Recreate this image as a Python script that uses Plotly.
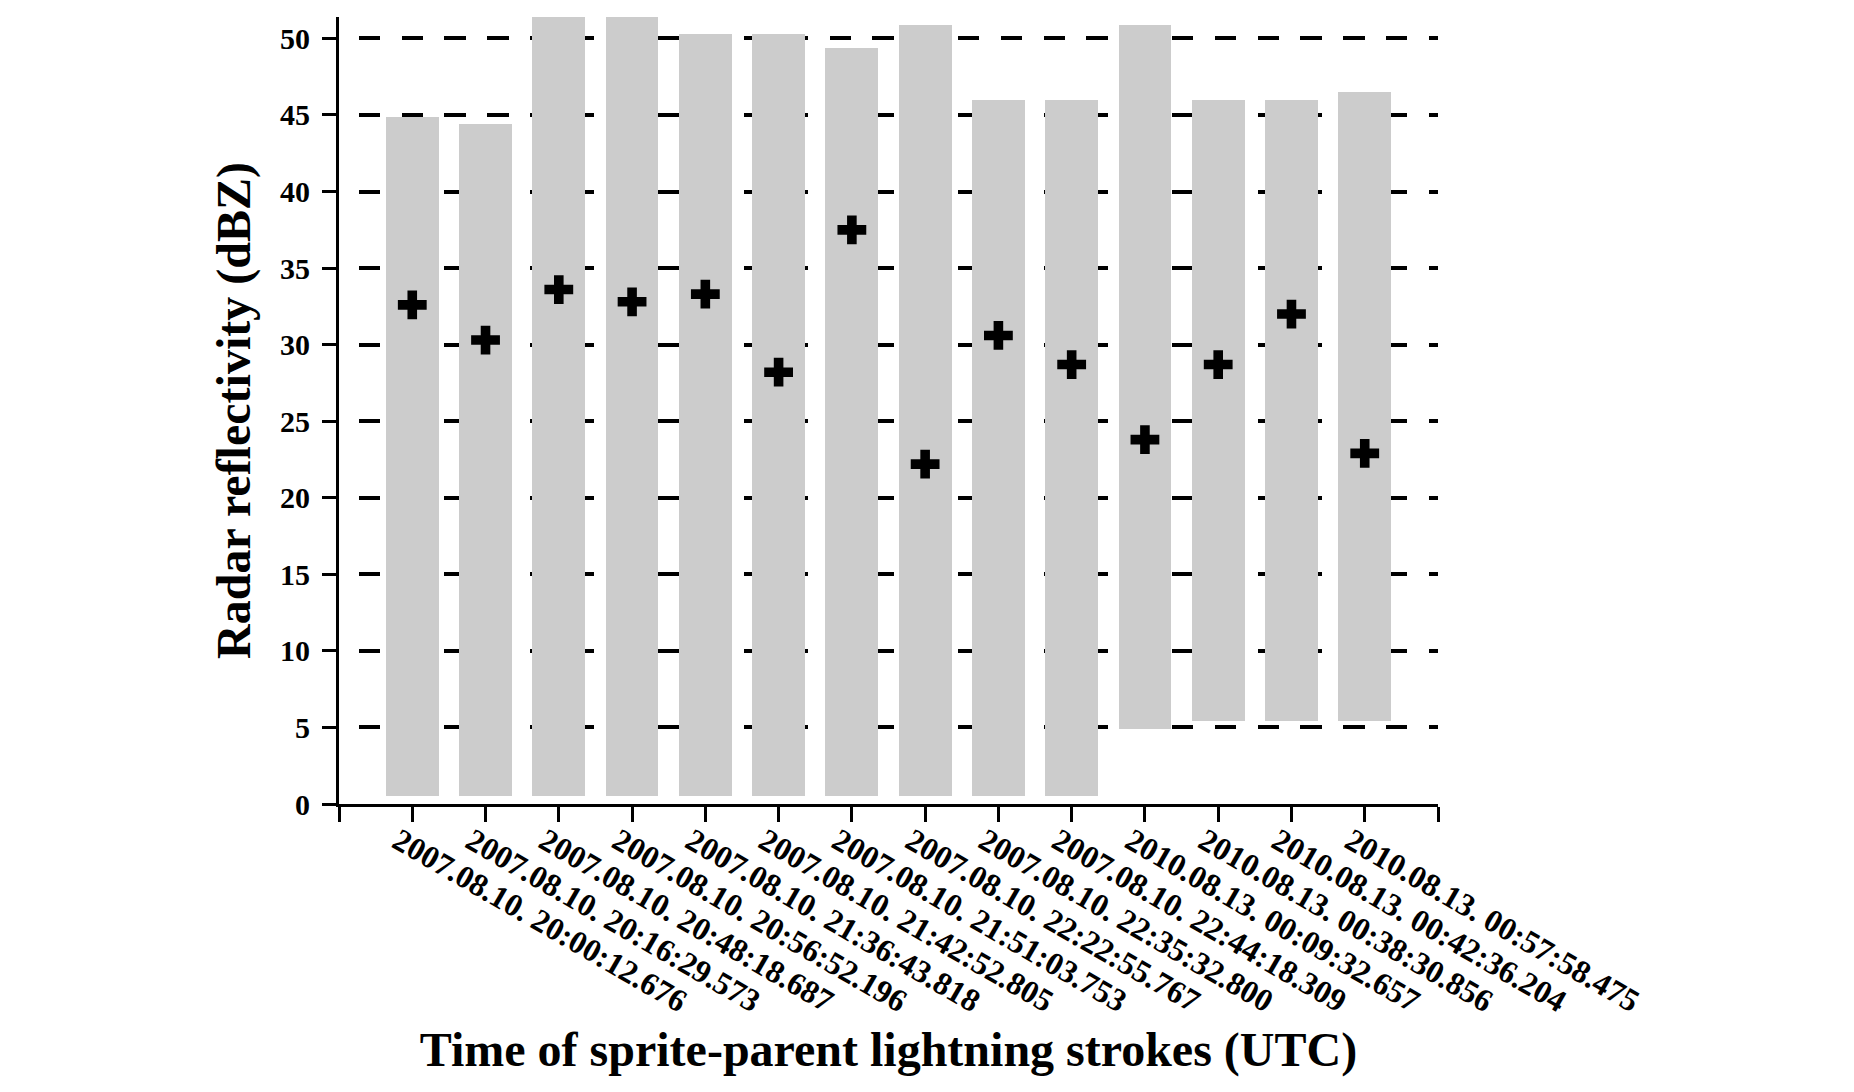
import plotly.graph_objects as go

# ---- data ----
times = [
    "2007.08.10. 20:00:12.676", "2007.08.10. 20:16:29.573", "2007.08.10. 20:48:18.687",
    "2007.08.10. 20:56:52.196", "2007.08.10. 21:36:43.818", "2007.08.10. 21:42:52.805",
    "2007.08.10. 21:51:03.753", "2007.08.10. 22:22:55.767", "2007.08.10. 22:35:32.800",
    "2007.08.10. 22:44:18.309", "2010.08.13. 00:09:32.657", "2010.08.13. 00:38:30.856",
    "2010.08.13. 00:42:36.204", "2010.08.13. 00:57:58.475",
]
refl_max = [44.9, 44.4, 52.0, 52.0, 50.3, 50.3, 49.4, 50.9, 46.0, 46.0, 50.9, 46.0, 46.0, 46.5]
refl_min = [0.5, 0.5, 0.5, 0.5, 0.5, 0.5, 0.5, 0.5, 0.5, 0.5, 4.9, 5.4, 5.4, 5.4]
refl_mean = [32.6, 30.3, 33.6, 32.8, 33.3, 28.2, 37.5, 22.2, 30.6, 28.7, 23.8, 28.7, 32.0, 22.9]
y_ticks = [0, 5, 10, 15, 20, 25, 30, 35, 40, 45, 50]

x_pos = list(range(len(times)))
heights = [hi - lo for hi, lo in zip(refl_max, refl_min)]

FONT = "Liberation Serif"

fig = go.Figure()
fig.add_trace(go.Bar(
    x=x_pos, y=heights, base=refl_min, width=0.72,
    marker=dict(color="#cccccc", line=dict(width=0)),
    showlegend=False,
))
fig.add_trace(go.Scatter(
    x=x_pos, y=refl_mean, mode="markers",
    marker=dict(symbol="cross", size=24, color="black", line=dict(width=0)),
    showlegend=False,
))

fig.update_layout(
    width=1854, height=1092,
    margin=dict(l=331, r=424, t=9, b=296),
    paper_bgcolor="white", plot_bgcolor="white",
    font=dict(family=FONT, color="black"),
    bargap=0,
)
fig.update_xaxes(
    range=[-1, 14],
    tickmode="array",
    tickvals=[-1] + x_pos + [len(times)],
    ticktext=[""] + times + [""],
    tickangle=30,
    tickfont=dict(family=FONT, size=32, weight="bold", color="black"),
    ticklabelshift=-14, ticklabelstandoff=-12,
    ticks="outside", ticklen=15, tickwidth=3, tickcolor="black",
    showline=True, linewidth=3, linecolor="black",
    showgrid=False, zeroline=False,
    title=dict(text="Time of sprite-parent lightning strokes (UTC)",
               font=dict(family=FONT, size=48, weight="bold", color="black")),
)
fig.update_yaxes(
    range=[0, 51.4],
    tickmode="array", tickvals=y_ticks, ticktext=[str(v) for v in y_ticks],
    tickfont=dict(family=FONT, size=30, weight="bold", color="black"),
    ticklabelstandoff=6,
    ticks="outside", ticklen=14, tickwidth=3, tickcolor="black",
    showline=True, linewidth=3, linecolor="black",
    showgrid=True, gridcolor="black", gridwidth=4,
    griddash="0px,19.7px,21.5px,1.6px",
    zeroline=False,
    title=dict(text="Radar reflectivity (dBZ)",
               font=dict(family=FONT, size=48, weight="bold", color="black")),
)

fig.write_html("out.html")
